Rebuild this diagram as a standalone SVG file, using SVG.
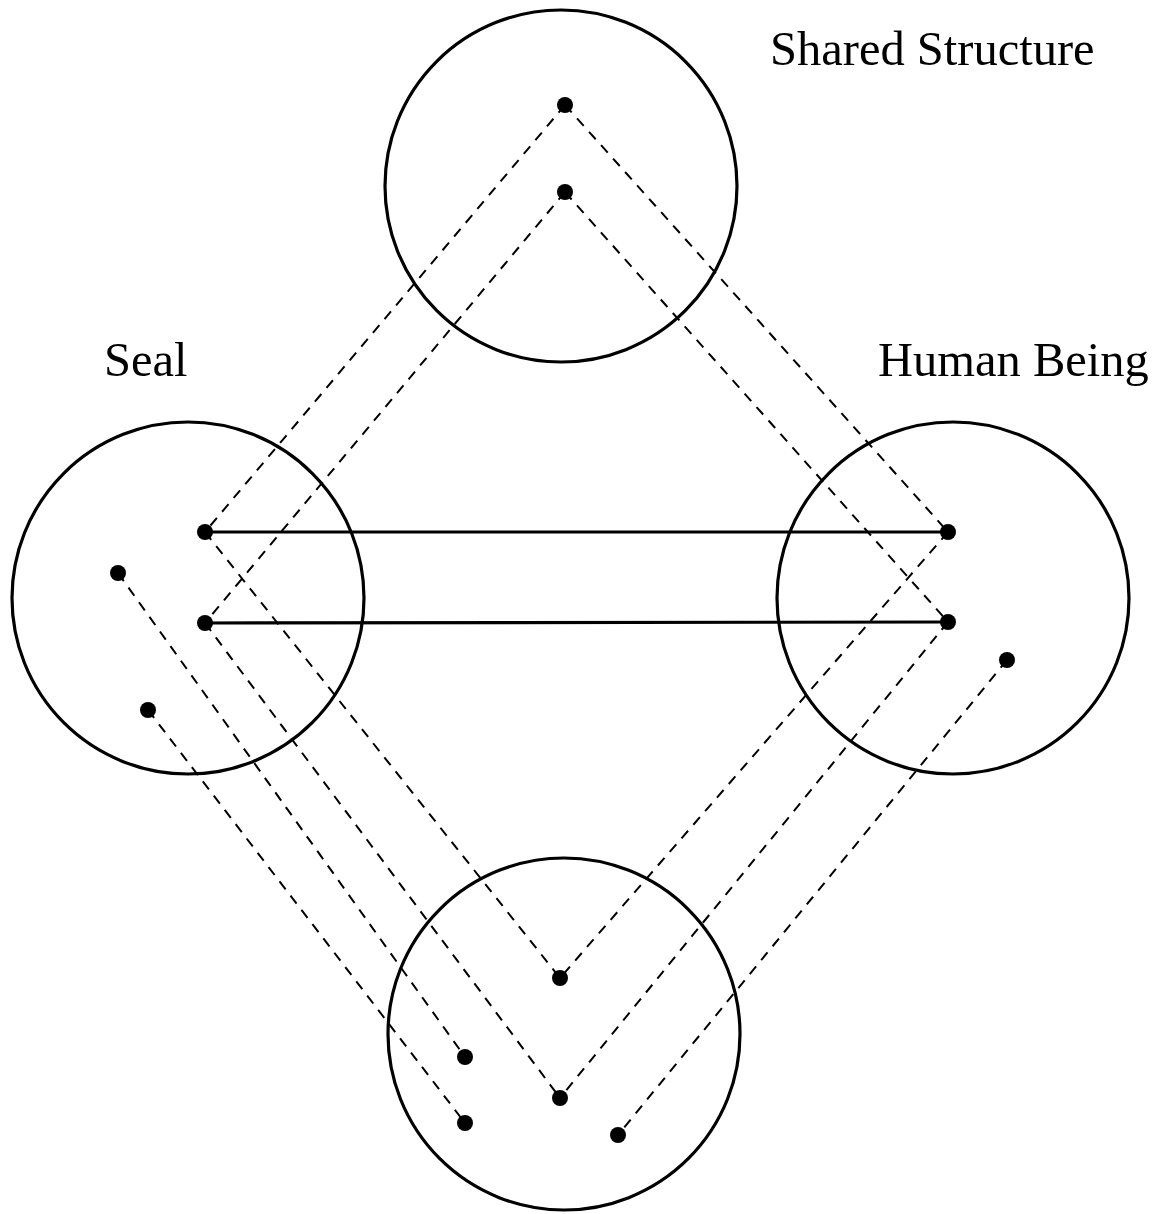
<svg xmlns="http://www.w3.org/2000/svg" width="1155" height="1214" viewBox="0 0 1155 1214">
<style>
.c{fill:none;stroke:#000;stroke-width:3.2}
.s{stroke:#000;stroke-width:3.2}
.d{stroke:#000;stroke-width:2;stroke-dasharray:10 8}
.p{fill:#000}
.t{font-family:"Liberation Serif","Times New Roman",serif;font-size:48.5px;fill:#000}
</style>
<rect width="1155" height="1214" fill="#fff"/>
<g id="connectors">
<line class="d" x1="565" y1="105" x2="205" y2="532"/>
<line class="d" x1="565" y1="192" x2="205" y2="623"/>
<line class="d" x1="565" y1="105" x2="948" y2="532"/>
<line class="d" x1="565" y1="192" x2="948" y2="622"/>
<line class="d" x1="205" y1="532" x2="560" y2="978"/>
<line class="d" x1="205" y1="623" x2="560" y2="1098"/>
<line class="d" x1="948" y1="532" x2="560" y2="978"/>
<line class="d" x1="948" y1="622" x2="560" y2="1098"/>
<line class="d" x1="1007" y1="660" x2="618" y2="1135"/>
<line class="d" x1="118" y1="573" x2="465" y2="1057"/>
<line class="d" x1="148" y1="710" x2="465" y2="1123"/>
<line class="s" x1="205" y1="532" x2="948" y2="532"/>
<line class="s" x1="205" y1="623" x2="948" y2="622"/>
</g>
<g id="shared">
<circle class="c" cx="561" cy="186" r="176"/>
<circle class="p" cx="565" cy="105" r="8"/>
<circle class="p" cx="565" cy="192" r="8"/>
<text class="t" x="770" y="65">Shared Structure</text>
</g>
<g id="seal">
<circle class="c" cx="188" cy="598" r="176"/>
<circle class="p" cx="205" cy="532" r="8"/>
<circle class="p" cx="205" cy="623" r="8"/>
<circle class="p" cx="118" cy="573" r="8"/>
<circle class="p" cx="148" cy="710" r="8"/>
<text class="t" x="104" y="376">Seal</text>
</g>
<g id="human">
<circle class="c" cx="953" cy="598" r="176"/>
<circle class="p" cx="948" cy="532" r="8"/>
<circle class="p" cx="948" cy="622" r="8"/>
<circle class="p" cx="1007" cy="660" r="8"/>
<text class="t" x="878" y="376">Human Being</text>
</g>
<g id="bottom">
<circle class="c" cx="564" cy="1034" r="176"/>
<circle class="p" cx="560" cy="978" r="8"/>
<circle class="p" cx="560" cy="1098" r="8"/>
<circle class="p" cx="465" cy="1057" r="8"/>
<circle class="p" cx="465" cy="1123" r="8"/>
<circle class="p" cx="618" cy="1135" r="8"/>
</g>
</svg>
